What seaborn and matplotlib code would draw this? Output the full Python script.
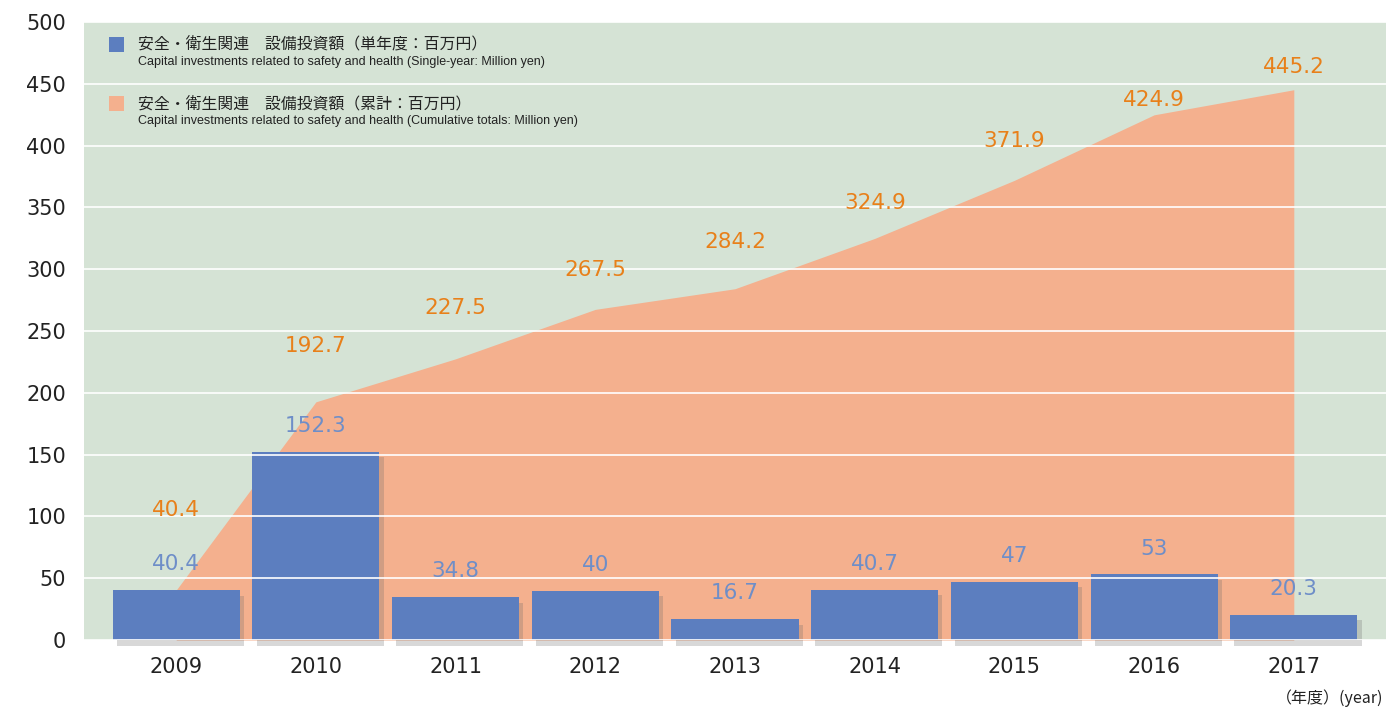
import matplotlib
matplotlib.use("Agg")
import matplotlib.pyplot as plt
import matplotlib.patheffects as pe
from matplotlib.patches import Rectangle
import seaborn as sns
import pandas as pd
import numpy as np

years = ["2009", "2010", "2011", "2012", "2013", "2014", "2015", "2016", "2017"]
single_year = [40.4, 152.3, 34.8, 40, 16.7, 40.7, 47, 53, 20.3]
cumulative = [40.4, 192.7, 227.5, 267.5, 284.2, 324.9, 371.9, 424.9, 445.2]
single_labels = ["40.4", "152.3", "34.8", "40", "16.7", "40.7", "47", "53", "20.3"]
cumulative_labels = ["40.4", "192.7", "227.5", "267.5", "284.2", "324.9", "371.9", "424.9", "445.2"]
y_ticks = [0, 50, 100, 150, 200, 250, 300, 350, 400, 450, 500]

legend_jp_single = "安全・衛生関連　設備投資額（単年度：百万円）"
legend_en_single = "Capital investments related to safety and health (Single-year: Million yen)"
legend_jp_cum = "安全・衛生関連　設備投資額（累計：百万円）"
legend_en_cum = "Capital investments related to safety and health (Cumulative totals: Million yen)"
unit_label = "（年度）(year)"

BG = "#D5E3D5"
ORANGE = "#F4B08E"
BLUE = "#5C7EBF"
ORANGE_TXT = "#E8801A"
BLUE_TXT = "#6E8EC8"

sns.set_theme(style="white")
plt.rcParams["font.family"] = ["DejaVu Sans", "Noto Sans CJK JP"]

df = pd.DataFrame({"year": years, "single": single_year, "cum": cumulative})

fig = plt.figure(figsize=(13.86, 7.07), dpi=100)
ax = fig.add_axes([84 / 1386, 1 - 640 / 707, 1 - 84 / 1386, (640 - 22) / 707])
ax.set_facecolor(BG)

x = np.arange(len(years))
# cumulative area
ax.fill_between(x, 0, df["cum"], color=ORANGE, lw=0, zorder=1)

# single-year bars
sns.barplot(data=df, x="year", y="single", color=BLUE, saturation=1, width=0.91,
            ax=ax, zorder=3, edgecolor="none")
for p in ax.patches:
    p.set_clip_on(False)
    p.set_path_effects([pe.SimplePatchShadow(offset=(3, -4), shadow_rgbFace="#666666", alpha=0.25),
                        pe.Normal()])

# gridlines on top
for t in y_ticks:
    ax.axhline(t, color="white", lw=1.2, zorder=4)

# value labels
cum_offsets = [65, 45, 41, 32, 38, 29, 32, 12, 18]
for i, (v, lab) in enumerate(zip(cumulative, cumulative_labels)):
    ax.text(i, v + cum_offsets[i], lab, ha="center", va="center", color=ORANGE_TXT,
            fontsize=15.5, zorder=5)
for i, (v, lab) in enumerate(zip(single_year, single_labels)):
    ax.text(i, v + 21, lab, ha="center", va="center", color=BLUE_TXT,
            fontsize=15.5, zorder=5)

ax.set_xlim(-0.66, len(years) - 1 + 0.66)
ax.set_ylim(0, 500)
ax.set_yticks(y_ticks)
ax.set_yticklabels([str(t) for t in y_ticks])
ax.set_xlabel("")
ax.set_ylabel("")
ax.tick_params(axis="both", length=0, labelsize=15, colors="#222222")
ax.tick_params(axis="y", pad=13)
ax.tick_params(axis="x", pad=12)
for s in ax.spines.values():
    s.set_visible(False)

# legend (manual)
for sq_y, jp, en, col in [(0.964, legend_jp_single, legend_en_single, BLUE),
                          (0.868, legend_jp_cum, legend_en_cum, ORANGE)]:
    ax.add_patch(Rectangle((0.0195, sq_y - 0.012), 0.0115, 0.024, transform=ax.transAxes,
                           facecolor=col, edgecolor="none", zorder=6, clip_on=False))
    ax.text(0.0415, sq_y, jp, transform=ax.transAxes, ha="left", va="center",
            fontsize=11.4, color="#222222", zorder=6,
            family=["Noto Sans CJK JP", "DejaVu Sans"])
    ax.text(0.0415, sq_y - 0.028, en, transform=ax.transAxes, ha="left", va="center",
            fontsize=9, color="#222222", zorder=6,
            family=["Liberation Sans", "DejaVu Sans"])

fig.text(1383 / 1386, 1 - 698 / 707, unit_label, ha="right", va="center", fontsize=11.5,
         color="#222222", family=["Noto Sans CJK JP", "DejaVu Sans"])

fig.savefig("out.png", dpi=100)
